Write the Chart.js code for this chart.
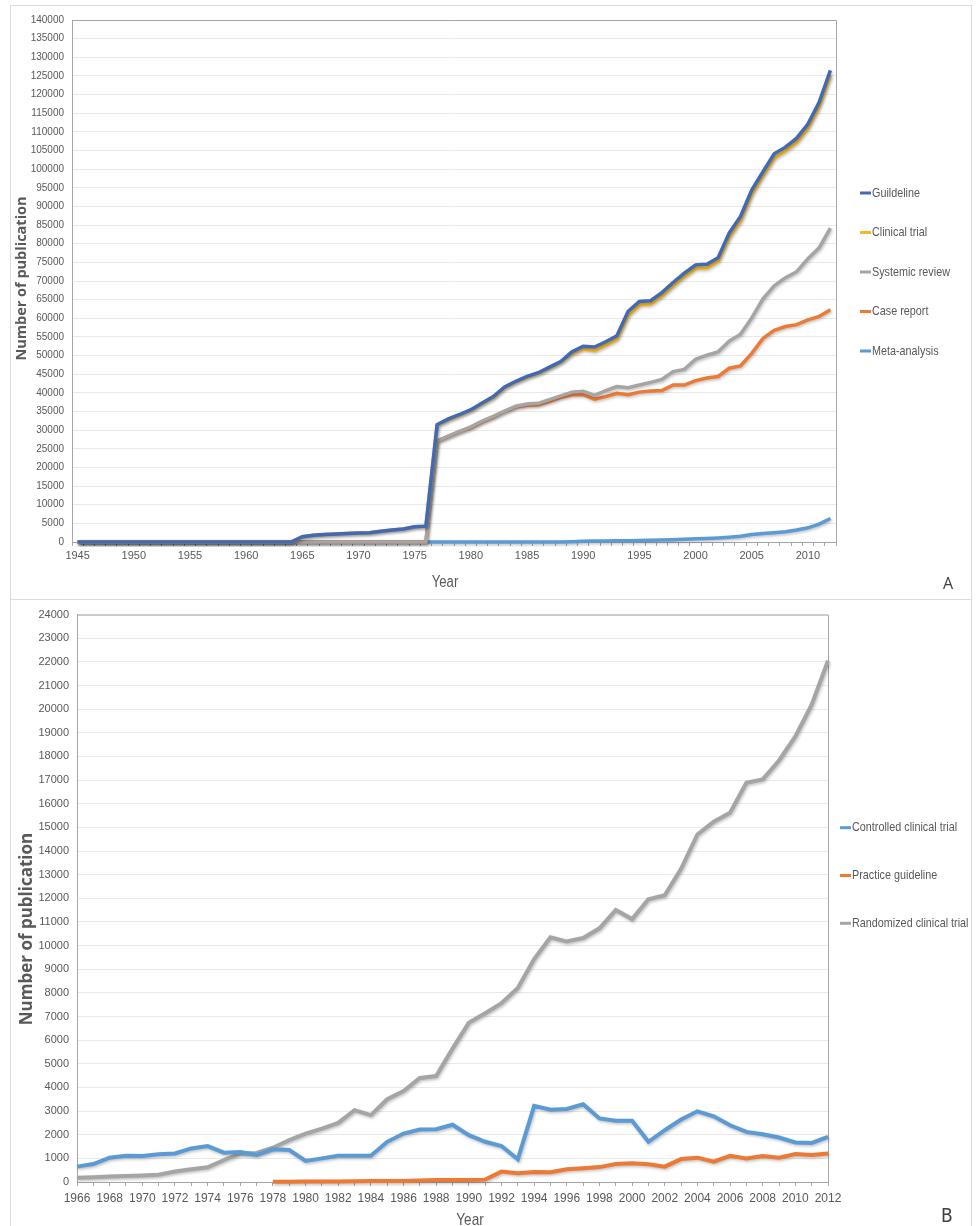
<!DOCTYPE html>
<html>
<head>
<meta charset="utf-8">
<script src="https://cdn.jsdelivr.net/npm/chart.js@4.4.1/dist/chart.umd.min.js"></script>
<style>
  html, body { margin: 0; padding: 0; background: #fff; overflow: hidden; }
  body { width: 979px; height: 1226px; position: relative; }
  .panel { position: absolute; border: 1px solid #dcdcdc; box-sizing: content-box; }
  .tag { position: absolute; color: #404040; }
</style>
</head>
<body>
<div class="panel" style="left:10px; top:5px; width:960px; height:593px;">
  <canvas id="chartA"></canvas>
</div>
<div class="panel" style="left:10px; top:599px; width:960px; height:634px;">
  <canvas id="chartB"></canvas>
</div>
<div class="tag" style="left:943px; top:572px; font: 16px 'Open Sans', sans-serif;">A</div>
<div class="tag" style="left:941px; top:1204px; font: 19px 'DejaVu Sans Condensed', 'Liberation Sans Narrow', sans-serif;">B</div>

<script>
// Panel A data (1945 - 2012)
const yearsA = [];
for (let y = 1945; y <= 2012; y++) yearsA.push(String(y));

const guideline = [
  0, 0, 0, 0, 0, 0, 0, 0, 0, 0, 0, 0, 0, 0, 0, 0, 0, 0, 0, 0,
  1400, 1800, 2000, 2150, 2300, 2400, 2500, 2900, 3200, 3500, 4100, 4250,
  31500, 33000, 34200, 35500, 37300, 39000, 41600, 43100, 44400, 45400,
  46900, 48400, 51000, 52500, 52300, 53700, 55300, 61900, 64500, 64700,
  66900, 69600, 72100, 74300, 74500, 76200, 82900, 87300, 94400, 99300,
  104100, 105900, 108300, 112100, 117900, 126500,
];
const clinicalTrial = [
  0, 0, 0, 0, 0, 0, 0, 0, 0, 0, 0, 0, 0, 0, 0, 0, 0, 0, 0, 0,
  1400, 1800, 2000, 2150, 2300, 2400, 2500, 2900, 3200, 3500, 4100, 4250,
  31300, 32800, 34000, 35300, 37100, 38800, 41400, 42900, 44200, 45200,
  46700, 48200, 50500, 51800, 51300, 52800, 54400, 60800, 63600, 63800,
  66000, 68700, 71200, 73400, 73500, 75300, 81800, 86200, 93300, 98300,
  103000, 104900, 107200, 111000, 116800, 125200,
];
const systemicReview = [
  0, 0, 0, 0, 0, 0, 0, 0, 0, 0, 0, 0, 0, 0, 0, 0, 0, 0, 0, 0,
  0, 0, 0, 0, 0, 0, 0, 0, 0, 0, 0, 0,
  27100, 28400, 29700, 30900, 32400, 33700, 35100, 36400, 37000, 37200,
  38200, 39200, 40200, 40400, 39300, 40600, 41700, 41400, 42100, 42800,
  43600, 45700, 46300, 49000, 50100, 51000, 53900, 55700, 60100, 65200,
  68700, 70900, 72500, 76000, 78900, 84200,
];
const caseReport = [
  0, 0, 0, 0, 0, 0, 0, 0, 0, 0, 0, 0, 0, 0, 0, 0, 0, 0, 0, 0,
  0, 0, 0, 0, 0, 0, 0, 0, 0, 0, 0, 0,
  27000, 28300, 29600, 30700, 32200, 33500, 35000, 36200, 36700, 36800,
  37700, 38800, 39500, 39500, 38300, 39000, 39900, 39500, 40200, 40500,
  40600, 42100, 42100, 43300, 44000, 44400, 46600, 47200, 50600, 54600,
  56800, 57800, 58300, 59600, 60500, 62300,
];
const metaAnalysis = [
  0, 0, 0, 0, 0, 0, 0, 0, 0, 0, 0, 0, 0, 0, 0, 0, 0, 0, 0, 0,
  0, 0, 0, 0, 0, 0, 0, 0, 0, 0, 0, 0, 0, 0, 0, 0, 0, 0, 0, 0,
  0, 0, 0, 0,
  100, 200, 250, 300, 330, 350, 400, 450, 520, 600, 720, 850,
  950, 1100, 1300, 1550, 2000, 2250, 2500, 2750, 3200, 3800, 4800, 6300,
];

// Panel B data (1966 - 2012)
const yearsB = [];
for (let y = 1966; y <= 2012; y++) yearsB.push(String(y));

const controlledTrial = [
  650, 760, 1030, 1110, 1100, 1170, 1210, 1420, 1520, 1240,
  1270, 1140, 1380, 1350, 890, 1000, 1110, 1110, 1110, 1700,
  2050, 2220, 2230, 2420, 1980, 1700, 1520, 960, 3220, 3060,
  3090, 3290, 2690, 2590, 2590, 1700, 2190, 2640, 2990, 2780,
  2400, 2120, 2020, 1880, 1670, 1650, 1910,
];
const practiceGuideline = [
  null, null, null, null, null, null, null, null, null, null, null, null,
  10, 15, 20, 20, 25, 30, 40, 40, 45, 60,
  80, 80, 80, 100, 440, 370, 420, 410, 540, 580,
  630, 760, 790, 750, 650, 970, 1030, 860, 1110, 1000,
  1100, 1030, 1180, 1140, 1210,
];
const randomizedTrial = [
  180, 200, 230, 250, 280, 310, 440, 540, 620, 930,
  1210, 1230, 1450, 1770, 2050, 2260, 2500, 3040, 2830, 3500,
  3850, 4400, 4480, 5640, 6740, 7140, 7560, 8210, 9430, 10350,
  10170, 10320, 10730, 11500, 11120, 11960, 12130, 13250, 14700, 15240,
  15620, 16890, 17030, 17830, 18850, 20190, 22050,
];

const SANS = "'Liberation Sans', Arial, sans-serif";
const GREY = "#595959";
const AXIS = "#a6a6a6";

Chart.defaults.font.family = SANS;
Chart.defaults.color = GREY;

// top/right frame of the plot area
const plotFrame = {
  id: "plotFrame",
  beforeDatasetsDraw(chart) {
    const { ctx, chartArea: a } = chart;
    ctx.save();
    ctx.strokeStyle = AXIS;
    ctx.lineWidth = 1;
    ctx.beginPath();
    ctx.moveTo(a.left, a.top + 0.5);
    ctx.lineTo(a.right + 0.5, a.top + 0.5);
    ctx.lineTo(a.right + 0.5, a.bottom);
    ctx.stroke();
    ctx.restore();
  },
};

// soft excel-like shadow under the lines
const lineShadow = {
  id: "lineShadow",
  beforeDatasetsDraw(chart) {
    const ctx = chart.ctx;
    ctx.save();
    ctx.shadowColor = "rgba(0,0,0,0.25)";
    ctx.shadowBlur = 3;
    ctx.shadowOffsetX = 1;
    ctx.shadowOffsetY = 1.5;
  },
  afterDatasetsDraw(chart) {
    chart.ctx.restore();
  },
};

// draws text squeezed horizontally (the source uses a condensed face)
function squeezedText(ctx, text, x, y, sx, rot) {
  ctx.save();
  ctx.translate(x, y);
  if (rot) ctx.rotate(rot);
  ctx.scale(sx, 1);
  ctx.fillText(text, 0, 0);
  ctx.restore();
}

// legend on the right, drawn from the datasets
const sideLegend = {
  id: "sideLegend",
  afterDraw(chart, args, opts) {
    const ctx = chart.ctx;
    ctx.save();
    ctx.font = opts.font;
    ctx.textBaseline = "middle";
    chart.data.datasets.forEach((ds, i) => {
      const y = opts.top + i * opts.gap;
      ctx.fillStyle = ds.borderColor;
      ctx.fillRect(opts.left, y - 1.5, 11, 3);
      ctx.fillStyle = GREY;
      squeezedText(ctx, ds.label, opts.left + 12, y, opts.squeeze, 0);
    });
    ctx.restore();
  },
};

// axis titles placed where the source has them
const axisTitles = {
  id: "axisTitles",
  afterDraw(chart, args, opts) {
    const ctx = chart.ctx;
    ctx.save();
    ctx.fillStyle = GREY;
    ctx.textAlign = "center";
    ctx.textBaseline = "middle";
    ctx.font = opts.xFont;
    squeezedText(ctx, opts.xText, opts.xAt[0], opts.xAt[1], opts.xSqueeze, 0);
    ctx.font = opts.yFont;
    squeezedText(ctx, opts.yText, opts.yAt[0], opts.yAt[1], 1, -Math.PI / 2);
    ctx.restore();
  },
};

function series(label, data, color, width) {
  return {
    label,
    data,
    borderColor: color,
    backgroundColor: color,
    borderWidth: width,
    pointRadius: 0,
    tension: 0,
    clip: 5,
  };
}

// Chart A
new Chart(document.getElementById("chartA"), {
  type: "line",
  data: {
    labels: yearsA,
    datasets: [
      series("Guildeline", guideline, "#4169b5", 3.5),
      series("Clinical trial", clinicalTrial, "#f6b823", 3.5),
      series("Systemic review", systemicReview, "#a5a5a5", 3.5),
      series("Case report", caseReport, "#ec7a35", 3.5),
      series("Meta-analysis", metaAnalysis, "#5b9bd5", 3.5),
    ],
  },
  options: {
    responsive: true,
    maintainAspectRatio: false,
    animation: false,
    devicePixelRatio: 1,
    layout: { padding: { top: 9, right: 135, left: 0, bottom: 0 } },
    plugins: {
      legend: { display: false },
      tooltip: { enabled: false },
      sideLegend: { left: 849, top: 187, gap: 39.5, font: "13px " + SANS, squeeze: 0.83 },
      axisTitles: {
        xText: "Year", xAt: [434, 577], xFont: "16px " + SANS, xSqueeze: 0.82,
        yText: "Number of publication", yAt: [11, 272.5],
        yFont: "bold 14.5px 'Open Sans', sans-serif",
      },
    },
    scales: {
      x: {
        offset: true,
        afterFit: (s) => { s.height = 57; },
        grid: { offset: true, drawOnChartArea: false, tickLength: 4, color: AXIS },
        border: { color: AXIS },
        ticks: {
          autoSkip: false,
          maxRotation: 0,
          padding: 3,
          font: { size: 11 },
          callback: (v, i) => (Number(yearsA[i]) % 5 === 0 ? yearsA[i] : ""),
        },
      },
      y: {
        min: 0,
        max: 140000,
        afterFit: (s) => { s.width = 61; },
        grid: { color: "#e9e9e9", drawTicks: false },
        border: { color: AXIS },
        ticks: {
          stepSize: 5000,
          maxTicksLimit: 100,
          padding: 8,
          font: { size: 10 },
          callback: (v) => String(v),
        },
      },
    },
  },
  plugins: [plotFrame, lineShadow, sideLegend, axisTitles],
});

// Chart B
new Chart(document.getElementById("chartB"), {
  type: "line",
  data: {
    labels: yearsB,
    datasets: [
      series("Controlled clinical trial", controlledTrial, "#5b9bd5", 4),
      series("Practice guideline", practiceGuideline, "#ec7a35", 4),
      series("Randomized clinical trial", randomizedTrial, "#a5a5a5", 4),
    ],
  },
  options: {
    responsive: true,
    maintainAspectRatio: false,
    animation: false,
    devicePixelRatio: 1,
    layout: { padding: { top: 13, right: 143, left: 0, bottom: 0 } },
    plugins: {
      legend: { display: false },
      tooltip: { enabled: false },
      sideLegend: { left: 829, top: 227.7, gap: 47.8, font: "13.5px " + SANS, squeeze: 0.8 },
      axisTitles: {
        xText: "Year", xAt: [459, 620], xFont: "17px " + SANS, xSqueeze: 0.8,
        yText: "Number of publication", yAt: [16.5, 329],
        yFont: "bold 17px 'Open Sans', sans-serif",
      },
    },
    scales: {
      x: {
        offset: false,
        afterFit: (s) => { s.height = 52; },
        grid: { drawOnChartArea: false, tickLength: 4, color: AXIS },
        border: { color: AXIS },
        ticks: {
          autoSkip: false,
          maxRotation: 0,
          padding: 5,
          font: { size: 12 },
          callback: (v, i) => (Number(yearsB[i]) % 2 === 0 ? yearsB[i] : ""),
        },
      },
      y: {
        min: 0,
        max: 24000,
        afterFit: (s) => { s.width = 66; },
        grid: { color: "#e9e9e9", drawTicks: false },
        border: { color: AXIS },
        ticks: {
          stepSize: 1000,
          maxTicksLimit: 100,
          padding: 8,
          font: { size: 11 },
          callback: (v) => String(v),
        },
      },
    },
  },
  plugins: [plotFrame, lineShadow, sideLegend, axisTitles],
});
</script>
</body>
</html>
